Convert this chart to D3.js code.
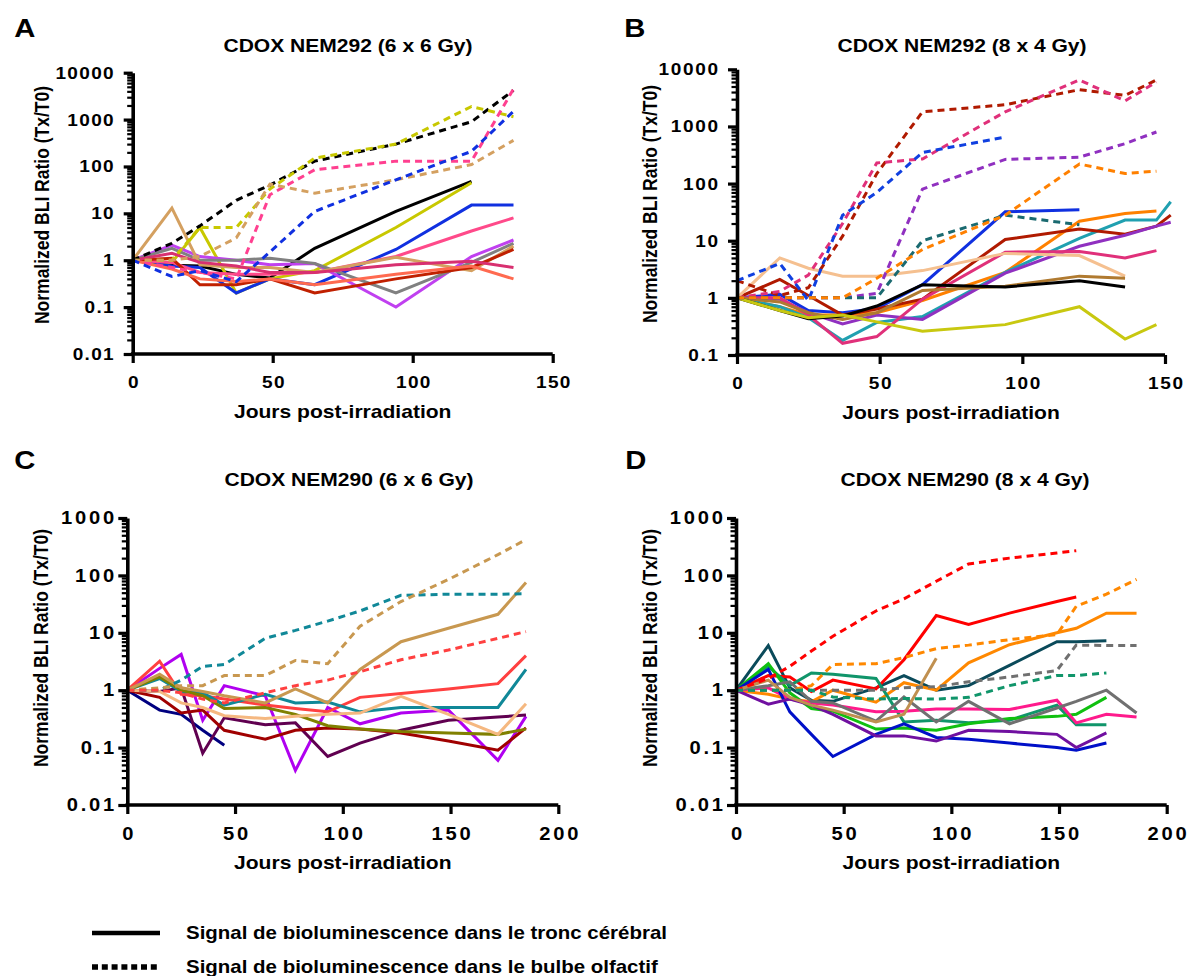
<!DOCTYPE html>
<html>
<head>
<meta charset="utf-8">
<script src="https://cdn.jsdelivr.net/npm/d3@7"></script>
<style>
  body { margin: 0; background: #fff; }
  text { font-family: "Liberation Sans", Arial, sans-serif; font-weight: bold; fill: #000; }
</style>
</head>
<body>
<svg id="chart" width="1192" height="976"></svg>
<script>
// ---------------- data ----------------
// A : CDOX NEM292 (6 x 6 Gy)
var A_days = [0, 14, 24, 37, 49, 65, 94, 121, 136];
var A_stem = [
  [1, 0.78, 0.75, 0.5, 0.42, 1.8, 11, 48, null],      // black
  [1, 0.9, 5, 0.2, 0.4, 0.6, 5, 45, null],            // yellow
  [1, 0.75, 0.7, 0.2, 0.4, 0.3, 1.7, 15, 15],         // blue
  [1, 0.9, 0.55, 0.5, 0.5, 0.55, 1.2, 4.2, 8],        // pink
  [1, 2.1, 1.2, 1.0, 0.8, 0.85, 0.1, 1.2, 2.7],       // violet
  [1, 1.8, 1.0, 1.0, 1.1, 0.85, 0.2, 0.9, 2.3],       // grey
  [1, 13, 0.8, 0.7, 0.7, 0.55, 1.15, 0.6, 2.0],       // tan
  [1, 1.1, 0.3, 0.3, 0.4, 0.2, 0.4, 0.7, 1.7],        // dark red
  [1, 0.65, 0.4, 0.35, 0.4, 0.3, 0.5, 0.75, 0.4],     // coral
  [1, 1.4, 0.9, 0.75, 0.55, 0.55, 0.8, 0.95, 0.7]     // crimson
];
var A_stemColors = ["#000000", "#c8c800", "#1030e0", "#ff4a8a", "#c040f0", "#808080", "#d4a060", "#c02000", "#ff6a50", "#d83070"];
var A_bulb = [
  [1, 2.3, 5.4, 19, 40, 130, 300, 900, 4200],         // black
  [1, 1.0, 5, 5, 33, 150, 300, 1900, 1150],           // yellow
  [1, 0.7, 0.55, 0.4, 25, 85, 130, 130, 4500],        // pink
  [1, 1.0, 1.2, 3, 42, 27, 52, 110, 360],             // tan
  [1, 0.45, 0.6, 0.35, 1.5, 11, 52, 210, 1500]        // blue
];
var A_bulbColors = ["#000000", "#c8c800", "#ff4090", "#d4a060", "#1030e0"];

// B : CDOX NEM292 (8 x 4 Gy)
var B_days = [0, 15, 25, 37, 49, 65, 94, 120, 136, 147, 152];
var B_stem = [
  [1, 1.15, 0.6, 0.55, 0.65, 1.7, 32, 35, null, null, null],     // blue
  [1, 0.7, 0.5, 0.5, 0.55, 0.9, 2.8, 22, 30, 33, null],          // orange
  [1, 0.7, 0.45, 0.18, 0.37, 0.47, 2.8, 11, 23, 23, 48],         // teal
  [1, 2.1, 1.1, 0.5, 0.64, 0.95, 10.5, 16, 13, 18, 28],          // dark red
  [1, 0.95, 0.55, 0.35, 0.5, 0.42, 2.7, 8, 12.5, 18, 21],        // purple
  [1, 1.0, 0.5, 0.16, 0.21, 0.95, 6.3, 6.5, 5, 6.7, null],       // pink
  [1, 5, 3.3, 2.4, 2.4, 3.0, 6, 5.5, 2.4, null, null],           // peach
  [1, 0.85, 0.55, 0.42, 0.55, 1.35, 1.6, 2.4, 2.2, null, null],  // brown
  [1, 0.6, 0.43, 0.48, 0.72, 1.7, 1.55, 2.0, 1.55, null, null],  // black
  [1, 0.6, 0.45, 0.5, 0.38, 0.26, 0.34, 0.7, 0.19, 0.34, null]   // yellow
];
var B_stemColors = ["#1030e0", "#ff8000", "#20a0b0", "#b01a00", "#9030c0", "#e0307a", "#f5c090", "#b07a30", "#000000", "#c8c810"];
var B_bulb = [
  [2, 1.1, 1.5, 12, 150, 1800, 2400, 4400, 3500, 6500, null],    // dark red
  [1, 1.3, 2.5, 20, 230, 270, 1800, 6500, 2800, 6000, null],     // pink
  [2, 4, 0.9, 28, 70, 350, 650, null, null, null, null],         // blue
  [1, 1, 1, 1, 1.2, 80, 265, 290, 500, 800, null],               // purple
  [1, 1, 1, 1, 1, 10, 28, 19, null, null, null],                 // dark teal
  [1, 1, 1, 1, 2.2, 7, 28, 220, 150, 165, null]                  // orange
];
var B_bulbColors = ["#b01a00", "#e0307a", "#1040e0", "#9030c0", "#1a6a70", "#ff8000"];

// C : CDOX NEM290 (6 x 6 Gy)
var C_days = [0, 15, 25, 35, 45, 64, 78, 93, 108, 127, 149, 172, 185];
var C_stem = [
  [1, 0.45, 0.38, 0.2, 0.11, null, null, null, null, null, null, null, null],  // navy
  [1, 2.4, 4.2, 0.3, 1.2, 0.8, 0.04, 0.5, 0.26, 0.4, 0.45, 0.06, 0.35],        // violet
  [1, 0.95, 1.1, 0.08, 0.33, 0.25, 0.27, 0.07, 0.12, 0.2, 0.3, 0.34, 0.37],    // plum
  [1, 0.75, 0.4, 0.45, 0.2, 0.14, 0.2, 0.22, 0.21, 0.18, 0.13, 0.09, 0.22],    // dark red
  [1, 3.2, 0.85, 0.8, 0.7, 0.55, 0.48, 0.42, 0.75, 0.88, 1.05, 1.3, 4],        // red
  [1, 1.6, 0.95, 0.9, 0.55, 0.85, 0.6, 0.62, 0.42, 0.5, 0.5, 0.5, 2.3],        // teal
  [1, 1.7, 1.0, 0.8, 0.48, 0.5, 0.38, 0.24, 0.21, 0.19, 0.18, 0.17, 0.21],     // olive
  [1, 1.9, 1.1, 0.95, 0.8, 0.6, 1.05, 0.6, 2.3, 7, 12, 21, 75],                // tan
  [1, 0.95, 0.6, 0.5, 0.36, 0.32, 0.35, 0.38, 0.4, 0.78, 0.38, 0.17, 0.58]     // peach
];
var C_stemColors = ["#000080", "#b000f0", "#600050", "#a00000", "#ff4040", "#108898", "#808000", "#c89850", "#f5b880"];
var C_bulb = [
  [1, 1.0, 1.5, 2.6, 2.8, 8, 11, 16, 24, 45, 47, 47, 48],        // teal
  [1, 1.1, 1.2, 1.2, 1.8, 1.8, 3.3, 2.9, 13, 35, 85, 230, 420],  // tan
  [1, 1, 0.9, 0.7, 0.6, 0.9, 1.2, 1.5, 2.1, 3.4, 5, 8, 10.5]     // red
];
var C_bulbColors = ["#108898", "#c89850", "#ff4040"];

// D : CDOX NEM290 (8 x 4 Gy)
var D_days = [0, 15, 25, 35, 45, 65, 78, 93, 108, 127, 149, 158, 172, 186];
var D_stem = [
  [1, 6, 1.1, 0.67, 0.64, 1.1, 1.8, 1.0, 1.2, 2.7, 7, 7, 7.3, null],                  // dark teal
  [1, 1.8, 1.7, 0.95, 1.5, 1.05, 3.4, 20, 14, 22, 35, 42, null, null],                // red
  [1, 0.85, 0.7, 0.63, 1.0, 0.62, 1.35, 1.0, 3, 6.2, 10, 12, 22, 22],                 // orange
  [1, 2.6, 1.2, 2.0, 1.9, 1.6, 0.28, 0.3, 0.27, 0.3, 0.55, 0.25, 0.25, null],         // sea green
  [1, 2.9, 0.9, 0.48, 0.43, 0.21, 0.22, 0.2, 0.26, 0.32, 0.35, 0.38, 0.75, null],     // green
  [1, 1.1, 0.7, 0.6, 0.55, 0.42, 0.43, 0.47, 0.47, 0.46, 0.67, 0.27, 0.38, 0.34],     // pink
  [1, 2.3, 0.42, 0.17, 0.07, 0.17, 0.26, 0.15, 0.14, 0.12, 0.1, 0.09, 0.12, null],    // blue
  [1, 0.57, 0.7, 0.55, 0.38, 0.16, 0.16, 0.13, 0.2, 0.19, 0.17, 0.1, 0.18, null],     // purple
  [1, 1.2, 1.4, 0.64, 0.6, 0.29, 0.76, 0.28, 0.64, 0.26, 0.49, 0.64, 1.0, 0.4],       // grey
  [1, 1.5, 0.75, 0.55, 0.45, 0.28, 0.38, 3.6, null, null, null, null, null, null]     // tan
];
var D_stemColors = ["#0a4a5a", "#ff0000", "#ff8800", "#10956a", "#10c010", "#ff1a8c", "#0010c8", "#7010a0", "#707070", "#c09050"];
var D_bulb = [
  [1, 1.6, 2.6, 4.8, 8.7, 24, 39, 79, 158, 200, 246, 270, null, null],   // red
  [1, 1, 1, 1.2, 2.8, 2.9, 3.7, 5.3, 6.1, 7.6, 9.3, 29, 47, 85],         // orange
  [1, 1, 1, 1, 1, 1.0, 1.1, 1.15, 1.4, 1.7, 2.2, 6.1, 6, 6],             // grey
  [1, 1, 1, 1, 0.76, 0.7, 0.72, 0.7, 0.75, 1.2, 1.8, 1.8, 2.0, null]     // sea green
];
var D_bulbColors = ["#ff0000", "#ff8800", "#707070", "#10956a"];

var xTicks150 = [0, 50, 100, 150];
var xTicks200 = [0, 50, 100, 150, 200];
var legendLabels = ["Signal de bioluminescence dans le tronc cérébral",
                    "Signal de bioluminescence dans le bulbe olfactif"];

// ---------------- layout ----------------
var SX = 1.17;      // the figure is slightly stretched horizontally
var FS = 17.5;
var svg = d3.select("#chart");

var panels = [
  { letter: "A", title: "CDOX NEM292 (6 x 6 Gy)", days: A_days, stem: A_stem, stemCol: A_stemColors, bulb: A_bulb, bulbCol: A_bulbColors,
    x0: 132.7, x1: 552.7, xmax: 150, xt: xTicks150, ylo: 0.01, yhi: 10000, yb: 354, yt: 72.7,
    lx: 13, ly: 37, tx: 348, ty: 52, ytx: 42, yty: 205, gap: 10, tfs: 17, tls: 1.2 },
  { letter: "B", title: "CDOX NEM292 (8 x 4 Gy)", days: B_days, stem: B_stem, stemCol: B_stemColors, bulb: B_bulb, bulbCol: B_bulbColors,
    x0: 737, x1: 1165, xmax: 150, xt: xTicks150, ylo: 0.1, yhi: 10000, yb: 355, yt: 69.3,
    lx: 623, ly: 37, tx: 962, ty: 52, ytx: 650, yty: 204, gap: 10, tfs: 17, tls: 1.5 },
  { letter: "C", title: "CDOX NEM290 (6 x 6 Gy)", days: C_days, stem: C_stem, stemCol: C_stemColors, bulb: C_bulb, bulbCol: C_bulbColors,
    x0: 127.3, x1: 558.3, xmax: 200, xt: xTicks200, ylo: 0.01, yhi: 1000, yb: 805, yt: 518,
    lx: 13, ly: 469, tx: 349, ty: 486, ytx: 41, yty: 648, gap: 4, tfs: 18, tls: 2.5 },
  { letter: "D", title: "CDOX NEM290 (8 x 4 Gy)", days: D_days, stem: D_stem, stemCol: D_stemColors, bulb: D_bulb, bulbCol: D_bulbColors,
    x0: 736, x1: 1166.7, xmax: 200, xt: xTicks200, ylo: 0.01, yhi: 1000, yb: 805, yt: 518,
    lx: 624, ly: 469, tx: 965, ty: 486, ytx: 650, yty: 648, gap: 4, tfs: 18, tls: 2.5 }
];

function label(g, x, y, txt, anchor, size, rotate) {
  var tf = "translate(" + x + "," + y + ")" + (rotate ? " rotate(-90) scale(1," + SX + ")" : " scale(" + SX + ",1)");
  return g.append("text").attr("transform", tf).attr("text-anchor", anchor)
    .style("font-size", size + "px").text(txt);
}

function fmt(d) { return d >= 1 ? d3.format("d")(d) : String(d); }

panels.forEach(function (p) {
  var g = svg.append("g");
  var x = d3.scaleLinear().domain([0, p.xmax]).range([p.x0, p.x1]);
  var y = d3.scaleLog().domain([p.ylo, p.yhi]).range([p.yb, p.yt]);
  var ts = 1.12;   // tick label stretch

  // series
  var line = d3.line().x(function (d) { return x(d[0]); }).y(function (d) { return y(d[1]); });
  function draw(list, cols, dashed) {
    list.forEach(function (vals, i) {
      var pts = p.days.map(function (d, j) { return [d, vals[j]]; })
                      .filter(function (q) { return q[1] != null; });
      g.append("path").attr("d", line(pts))
        .attr("fill", "none").attr("stroke", cols[i]).attr("stroke-width", 3)
        .attr("stroke-dasharray", dashed ? "7,5" : null);
    });
  }
  draw(p.stem, p.stemCol, false);
  draw(p.bulb, p.bulbCol, true);

  // y axis: major + minor ticks
  var majors = [], minors = [];
  for (var e = Math.round(Math.log10(p.ylo)); e <= Math.round(Math.log10(p.yhi)); e++) {
    majors.push(Math.pow(10, e));
    if (Math.pow(10, e) < p.yhi) for (var k = 2; k <= 9; k++) minors.push(k * Math.pow(10, e));
  }
  var yMinor = g.append("g").attr("transform", "translate(" + p.x0 + ",0)")
    .call(d3.axisLeft(y).tickValues(minors).tickSize(5.5).tickSizeOuter(0).tickFormat(""));
  yMinor.select(".domain").remove();
  yMinor.selectAll("line").attr("stroke-width", 2.2);

  var yAxis = g.append("g").attr("transform", "translate(" + p.x0 + ",0)")
    .call(d3.axisLeft(y).tickValues(majors).tickSize(9).tickSizeOuter(0).tickFormat(fmt));
  yAxis.select(".domain").attr("stroke-width", 3.6);
  yAxis.selectAll(".tick line").attr("stroke-width", 3.2);
  yAxis.selectAll(".tick text")
    .attr("font-family", null).attr("font-size", null)
    .style("font-size", p.tfs + "px")
    .style("letter-spacing", p.tls + "px")
    .attr("x", -(p.gap + 9) / ts + p.tls)
    .attr("transform", "scale(" + ts + ",1)");

  // x axis
  var xAxis = g.append("g").attr("transform", "translate(0," + p.yb + ")")
    .call(d3.axisBottom(x).tickValues(p.xt).tickSize(9).tickSizeOuter(0));
  xAxis.select(".domain").attr("stroke-width", 3.6).attr("d", "M" + (p.x0 - 1.8) + ",0H" + p.x1);
  xAxis.selectAll(".tick line").attr("stroke-width", 3.2);
  xAxis.selectAll(".tick text")
    .style("font-size", p.tfs + "px")
    .style("letter-spacing", p.tls + "px")
    .attr("y", 22).attr("dy", "0.71em")
    .attr("x", p.tls / 2)
    .attr("transform", "scale(" + ts + ",1)");

  // titles
  label(g, p.lx + 10 * SX, p.ly, p.letter, "middle", 25, false);
  label(g, p.tx, p.ty, p.title, "middle", FS + 0.5, false);
  label(g, (p.x0 + p.x1) / 2, p.yb + 64, "Jours post-irradiation", "middle", FS + 0.5, false);
  label(g, p.ytx + 6.5, p.yty, "Normalized BLI Ratio (Tx/T0)", "middle", FS, true);
});

// legend
var lg = svg.append("g");
lg.append("line").attr("x1", 92).attr("x2", 160).attr("y1", 933).attr("y2", 933)
  .attr("stroke", "#000").attr("stroke-width", 4.5);
lg.append("line").attr("x1", 92).attr("x2", 160).attr("y1", 967).attr("y2", 967)
  .attr("stroke", "#000").attr("stroke-width", 5.5).attr("stroke-dasharray", "6,3.8");
label(lg, 186, 939, legendLabels[0], "start", FS, false);
label(lg, 186, 973, legendLabels[1], "start", FS, false);
</script>
</body>
</html>
